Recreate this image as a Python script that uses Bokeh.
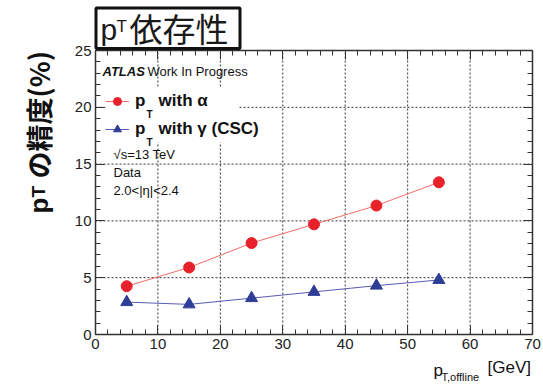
import math
from bokeh.plotting import figure
from bokeh.models import (Range1d, LinearAxis, FixedTicker, Label, Legend, LegendItem,
                          BoxAnnotation, CustomLabelingPolicy)
from bokeh.embed import file_html
from bokeh.resources import INLINE

# ---------------- data ----------------
pt_offline = [5, 15, 25, 35, 45, 55]
res_alpha = [4.25, 5.9, 8.05, 9.7, 11.35, 13.4]
res_gamma = [2.85, 2.65, 3.2, 3.75, 4.3, 4.8]
x_ticks = [0, 10, 20, 30, 40, 50, 60, 70]
y_ticks = [0, 5, 10, 15, 20, 25]
x_minor = list(range(0, 71, 2))
y_minor = list(range(0, 26, 1))
legend_labels = ["p\u2002 with \u03b1", "p\u2002 with \u03b3 (CSC)"]

# ---------------- layout (pixels) ----------------
W, H = 543, 387
PX_L, PX_R, PY_T, PY_B = 95, 532, 50, 334
X0, X1 = x_ticks[0], x_ticks[-1]
Y0, Y1 = y_ticks[0], y_ticks[-1]
sx = (PX_R - PX_L) / (X1 - X0)
sy = (PY_B - PY_T) / (Y1 - Y0)
x_range = Range1d(X0 - PX_L / sx, X1 + (W - PX_R) / sx)
y_range = Range1d(Y0 - (H - PY_B) / sy, Y1 + PY_T / sy)

p = figure(width=W, height=H, x_range=x_range, y_range=y_range,
           output_backend="svg", toolbar_location=None, min_border=0,
           x_axis_type=None, y_axis_type=None)
p.outline_line_color = None
p.background_fill_color = "white"
p.border_fill_color = "white"
p.xgrid.visible = False
p.ygrid.visible = False

TICK_FONT = "Liberation Sans"
AX_COL = "#333333"
hide_all = CustomLabelingPolicy(code="for (const i of Array.from(indices)) indices.unset(i); return indices")


def make_axis(ticks, minor, loc, bounds, show_labels):
    ax = LinearAxis(ticker=FixedTicker(ticks=ticks, minor_ticks=minor),
                    fixed_location=loc, bounds=bounds)
    ax.axis_line_color = AX_COL
    ax.axis_line_width = 1.5
    ax.major_tick_in = 9
    ax.major_tick_out = 0
    ax.minor_tick_in = 5
    ax.minor_tick_out = 0
    ax.major_tick_line_color = AX_COL
    ax.minor_tick_line_color = AX_COL
    if show_labels:
        ax.major_label_text_font = TICK_FONT
        ax.major_label_text_font_size = "15px"
        ax.major_label_text_color = "#222222"
        ax.major_label_standoff = 4
    else:
        ax.major_label_text_font_size = "1px"
        ax.major_label_standoff = 0
        ax.major_label_policy = hide_all
    return ax


# dotted grid at the inner major ticks
gx = x_ticks[1:-1]
gy = y_ticks[1:-1]
p.segment(x0=gx, y0=[Y0] * len(gx), x1=gx, y1=[Y1] * len(gx),
          line_color="#333333", line_dash="2 2", line_width=1)
p.segment(x0=[X0] * len(gy), y0=gy, x1=[X1] * len(gy), y1=gy,
          line_color="#333333", line_dash="2 2", line_width=1)

p.add_layout(make_axis(x_ticks, x_minor, Y0, (X0, X1), True), "below")
p.add_layout(make_axis(y_ticks, y_minor, X0, (Y0, Y1), True), "left")
p.add_layout(make_axis(x_ticks, x_minor, Y1, (X0, X1), False), "above")
p.add_layout(make_axis(y_ticks, y_minor, X1, (Y0, Y1), False), "right")

RED_LINE, RED = "#f26b6b", "#e8222a"
BLUE_LINE, BLUE = "#5a5ab4", "#2e3d96"

l1 = p.line(pt_offline, res_alpha, line_color=RED_LINE, line_width=1)
m1 = p.scatter(pt_offline, res_alpha, marker="circle", size=11, fill_color=RED, line_color=RED)
l2 = p.line(pt_offline, res_gamma, line_color=BLUE_LINE, line_width=1)
m2 = p.scatter(pt_offline, res_gamma, marker="triangle", size=12, fill_color=BLUE, line_color=BLUE)

# white area behind the legend (hides the grid like the original legend box)
p.add_layout(BoxAnnotation(left=105, right=238, top=87, bottom=142,
                           left_units="canvas", right_units="canvas",
                           top_units="canvas", bottom_units="canvas",
                           fill_color="white", fill_alpha=1.0, line_alpha=0))

legend = Legend(items=[LegendItem(label=legend_labels[0], renderers=[l1, m1]),
                       LegendItem(label=legend_labels[1], renderers=[l2, m2])],
                location=(105, 248))
legend.label_text_font = "Liberation Sans"
legend.label_text_font_style = "bold"
legend.label_text_font_size = "17px"
legend.label_text_color = "#111111"
legend.glyph_width = 24
legend.glyph_height = 20
legend.label_height = 20
legend.spacing = 8
legend.padding = 4
legend.margin = 0
legend.label_standoff = 6
legend.border_line_color = None
legend.background_fill_alpha = 0.0
p.add_layout(legend)


def lab(text, px, py, size, font="Liberation Sans", style="normal", color="#111111",
        angle=0.0, align="left", baseline="alphabetic"):
    p.add_layout(Label(x=px, y=py, x_units="canvas", y_units="canvas", text=text,
                       text_font=font, text_font_size=size, text_font_style=style,
                       text_color=color, angle=angle, text_align=align,
                       text_baseline=baseline, level="overlay"))


# legend subscripts
lab("T", 146, 114, "10px", style="bold")
lab("T", 146, 142, "10px", style="bold")

# info texts
lab("ATLAS", 102, 70.5, "13px", style="bold italic")
lab("Work In Progress", 147, 70.5, "13px")
lab("\u221as=13 TeV", 113, 153.5, "13px")
lab("Data", 113, 171.5, "13px")
lab("2.0<|\u03b7|<2.4", 113, 189.5, "13px")

# title box
box = BoxAnnotation(left=95.5, right=239.5, top=7.5, bottom=48,
                    left_units="canvas", right_units="canvas",
                    top_units="canvas", bottom_units="canvas",
                    fill_color="white", fill_alpha=1.0,
                    line_color="#111111", line_alpha=1.0, line_width=3)
p.add_layout(box)
lab("p", 100, 29, "30px", color="#1a1a1a")
lab("T", 116, 26, "17px", color="#1a1a1a")
lab("依存性", 129, 27, "33px", font="Noto Sans CJK JP", color="#1a1a1a")

# y axis label (rotated)
ang = math.pi / 2
lab("p", 38, 213, "26px", style="bold", angle=ang)
lab("T", 38, 197, "19px", style="bold", angle=ang)
lab("の精度", 38, 178, "27px", font="Noto Sans CJK JP", style="bold", angle=ang)
lab("(%)", 38, 97, "27px", font="Noto Sans CJK JP", style="bold", angle=ang)

# x axis label
lab("p", 433, 370, "17px")
lab("T,offline", 441, 376, "11px")
lab("[GeV]", 487, 367, "17px")

open("out.html", "w").write(file_html(p, INLINE))
